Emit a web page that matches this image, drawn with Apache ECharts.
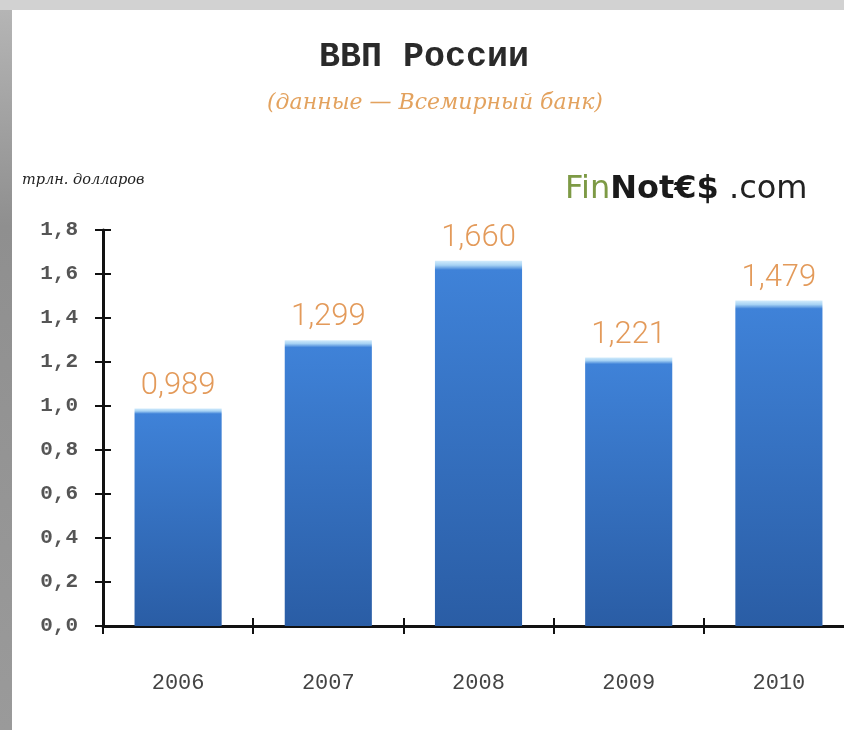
<!DOCTYPE html>
<html><head><meta charset="utf-8">
<script src="https://cdn.jsdelivr.net/npm/echarts@6/dist/echarts.min.js"></script>
<style>
html,body{margin:0;padding:0;width:844px;height:730px;overflow:hidden;background:#d2d2d2;position:relative;}
#left{position:absolute;left:0;top:10px;width:12px;height:720px;background:linear-gradient(#b5b5b5,#8f8f8f 30%,#9a9a9a);z-index:2;}
#chart{position:absolute;left:12px;top:10px;width:852px;height:720px;background:#fff;}
</style></head>
<body><div id="left"></div><div id="chart"></div>
<script>
const categories = ['2006','2007','2008','2009','2010'];
const gdpValues = [0.989, 1.299, 1.660, 1.221, 1.479];
const yTickValues = [0, 0.2, 0.4, 0.6, 0.8, 1.0, 1.2, 1.4, 1.6, 1.8];

const chart = echarts.init(document.getElementById('chart'));
const typeFont = "'Liberation Mono','DejaVu Sans Mono',monospace";
const gridLeft = 91, gridRight = 10, gridTop = 220, gridBottom = 104;
const gridW = 852 - gridLeft - gridRight;
const gridH = 720 - gridTop - gridBottom;
chart.setOption({
  animation: false,
  backgroundColor: '#fff',
  title: [
    {text: 'ВВП России', left: 302, top: 25,
     textStyle: {fontFamily: typeFont, fontWeight: 'bold', fontSize: 35, color: '#2a2a2a'}},
    {text: '(данные — Всемирный банк)', left: 250, top: 77,
     textStyle: {fontFamily: "'DejaVu Serif',serif", fontStyle: 'italic', fontSize: 22, color: '#e3a25e', fontWeight: 'normal'}},
    {text: 'трлн. долларов', left: 5, top: 158,
     textStyle: {fontFamily: "'DejaVu Serif',serif", fontStyle: 'italic', fontSize: 14.5, color: '#222', fontWeight: 'normal'}},
    {text: '{g|Fin}{b|Not€$}{n| .com}', left: 548, top: 159,
     textStyle: {fontWeight: 'normal', rich: {
       g: {fontFamily: "'DejaVu Sans',sans-serif", fontSize: 32, color: '#7d9a45', fontWeight: 'normal'},
       b: {fontFamily: "'DejaVu Sans',sans-serif", fontSize: 32, color: '#1a1a1a', fontWeight: 'bold'},
       n: {fontFamily: "'DejaVu Sans',sans-serif", fontSize: 32, color: '#222', fontWeight: 'normal'}
     }}}
  ],
  grid: {left: gridLeft, right: gridRight, top: gridTop, bottom: gridBottom, containLabel: false},
  xAxis: [
    {type: 'category', data: categories, position: 'bottom',
     axisLine: {lineStyle: {color: '#111', width: 3}},
     axisTick: {show: true, length: 8, lineStyle: {color: '#111', width: 2}},
     axisLabel: {margin: 46, fontFamily: typeFont, fontSize: 22, color: '#444'}},
    {type: 'category', data: categories, position: 'top', offset: -gridH,
     axisLine: {show: false},
     axisTick: {show: true, length: 8, lineStyle: {color: '#111', width: 2}},
     axisLabel: {show: false}}
  ],
  yAxis: [
    {type: 'value', min: 0, max: 1.8, interval: 0.2, position: 'left',
     axisLine: {show: true, lineStyle: {color: '#111', width: 3}},
     axisTick: {show: true, length: 8, lineStyle: {color: '#111', width: 2}},
     splitLine: {show: false},
     axisLabel: {margin: 25, fontFamily: typeFont, fontWeight: 'bold', fontSize: 21, color: '#555',
       formatter: v => v.toFixed(1).replace('.', ',')}},
    {type: 'value', min: 0, max: 1.8, interval: 0.2, position: 'right', offset: -gridW,
     axisLine: {show: false},
     axisTick: {show: true, length: 8, lineStyle: {color: '#111', width: 2}},
     splitLine: {show: false}, axisLabel: {show: false}}
  ],
  series: [{
    type: 'bar', data: gdpValues, barWidth: '58%', xAxisIndex: 0, yAxisIndex: 0,
    itemStyle: {color: new echarts.graphic.LinearGradient(0, 0, 0, 1, [
      {offset: 0, color: '#d2ecfc'}, {offset: 0.012, color: '#a6d2f4'},
      {offset: 0.025, color: '#3f82d8'}, {offset: 1, color: '#2a5da5'}])},
    label: {show: true, position: 'top', distance: 7,
      fontFamily: "Roboto,'Liberation Sans',sans-serif", fontWeight: 300, fontSize: 31,
      color: '#e39a5a',
      formatter: p => p.value.toFixed(3).replace('.', ',')}
  }]
});
</script></body></html>
